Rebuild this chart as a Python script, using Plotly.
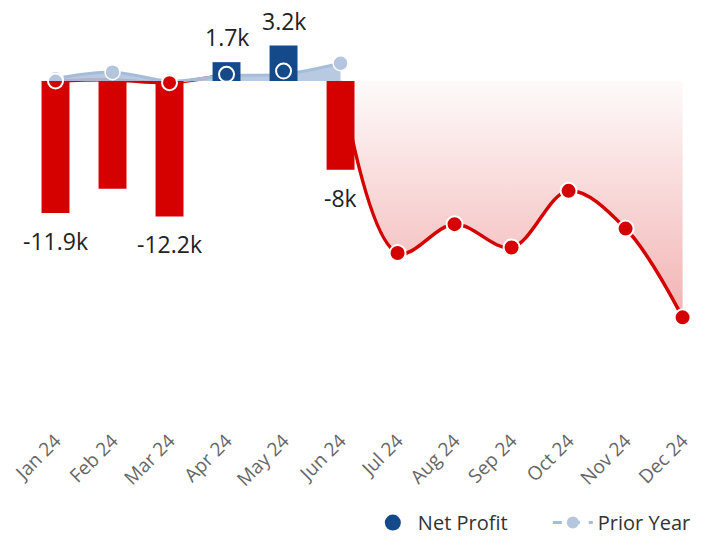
import plotly.graph_objects as go

months = ["Jan 24", "Feb 24", "Mar 24", "Apr 24", "May 24", "Jun 24",
          "Jul 24", "Aug 24", "Sep 24", "Oct 24", "Nov 24", "Dec 24"]

# Actual net profit (bars), thousands
bar_months = months[:6]
bar_values = [-11.9, -9.7, -12.2, 1.7, 3.2, -8.0]
bar_labels = ["-11.9k", "", "-12.2k", "1.7k", "3.2k", "-8k"]

# Net profit trend line (thousands)
line_values = [0.0, 0.1, -0.15, 0.6, 0.9, 0.0, -15.5, -12.9, -15.0, -9.9, -13.3, -21.3]
early_months = months[:4]
early_values = line_values[:4]
forecast_months = months[5:]
forecast_values = line_values[5:]

# Prior year (thousands)
prior_months = months[:6]
prior_values = [0.2, 0.8, 0.0, 0.5, 0.6, 1.6]

RED = "#d50000"
BLUE = "#154a8a"
PRIOR_LINE = "#a6bdd9"
PRIOR_FILL = "rgba(176,196,222,0.9)"
PRIOR_MARK = "#b3c6de"
YRANGE = [-31, 6.58]

fig = go.Figure()

# ---- base layer (y): net profit line + prior-year area ----
fig.add_trace(go.Scatter(
    x=early_months, y=early_values, mode="lines",
    line=dict(color=RED, width=3.5, shape="spline"),
    showlegend=False, hoverinfo="skip", yaxis="y",
))
fig.add_trace(go.Scatter(
    x=forecast_months, y=forecast_values, mode="lines",
    line=dict(color=RED, width=3.5, shape="spline"),
    fill="tozeroy",
    fillgradient=dict(type="vertical", start=0, stop=min(forecast_values),
                      colorscale=[[0, "rgba(213,0,0,0.02)"], [1, "rgba(213,0,0,0.30)"]]),
    showlegend=False, hoverinfo="skip", yaxis="y",
))
fig.add_trace(go.Scatter(
    x=prior_months, y=prior_values, mode="lines+markers",
    line=dict(color=PRIOR_LINE, width=3, shape="spline"),
    fill="tozeroy", fillcolor=PRIOR_FILL,
    marker=dict(size=15, color=PRIOR_MARK, line=dict(color="white", width=1.5)),
    showlegend=False, hoverinfo="skip", yaxis="y",
))

# ---- bars layer (y2) ----
fig.add_trace(go.Bar(
    x=bar_months, y=bar_values, width=0.49,
    marker=dict(color=[RED if v < 0 else BLUE for v in bar_values], line=dict(width=0)),
    showlegend=False, hoverinfo="skip", yaxis="y2",
))

# ---- markers layer (y3) ----
marker_colors = ["rgba(0,0,0,0)", RED, RED, "rgba(0,0,0,0)", "rgba(0,0,0,0)", RED,
                 RED, RED, RED, RED, RED, RED]
marker_sizes = [15, 0, 15, 15, 15, 0, 16, 16, 16, 16, 16, 16]
fig.add_trace(go.Scatter(
    x=months, y=line_values, mode="markers",
    marker=dict(size=marker_sizes, color=marker_colors, opacity=1,
                line=dict(color="white", width=2)),
    showlegend=False, hoverinfo="skip", yaxis="y3",
))

# Legend entries
fig.add_trace(go.Scatter(
    x=[None], y=[None], mode="markers", name="Net Profit",
    marker=dict(size=19, color=BLUE), yaxis="y3",
))
fig.add_trace(go.Scatter(
    x=[None], y=[None], mode="lines+markers", name="Prior Year",
    line=dict(color=PRIOR_LINE, width=3, dash="dash"),
    marker=dict(size=12, color=PRIOR_MARK), yaxis="y3",
))

for m, v, t in zip(bar_months, bar_values, bar_labels):
    if t:
        fig.add_annotation(
            x=m, y=v, text=t, showarrow=False, yref="y2",
            yshift=25 if v > 0 else -28, yanchor="middle", height=24,
            font=dict(size=23, color="#222", family="Open Sans"),
        )

hidden_y = dict(range=YRANGE, showgrid=False, zeroline=False, showline=False,
                showticklabels=False, ticks="", automargin=False)

# page body has an 8px default margin; figure sized to fit the 705x540 window
fig.update_layout(
    width=697, height=532,
    margin=dict(l=18.5, r=10.5, t=0, b=115, autoexpand=False),
    paper_bgcolor="white", plot_bgcolor="white",
    font=dict(family="Open Sans", color="#333"),
    xaxis=dict(
        type="category", categoryorder="array", categoryarray=months,
        range=[-0.5, 11.2], showgrid=False, zeroline=False, showline=False,
        ticks="", tickangle=-45, automargin=False,
        tickfont=dict(size=19, color="#666", family="Open Sans"),
    ),
    yaxis=hidden_y,
    yaxis2=dict(hidden_y, overlaying="y"),
    yaxis3=dict(hidden_y, overlaying="y"),
    legend=dict(
        orientation="h", x=0.511, xanchor="left", y=-0.234, yanchor="middle",
        font=dict(size=20, color="#333", family="Open Sans"),
        itemwidth=40, entrywidth=125, bgcolor="rgba(0,0,0,0)",
    ),
)

fig.write_html("out.html")
